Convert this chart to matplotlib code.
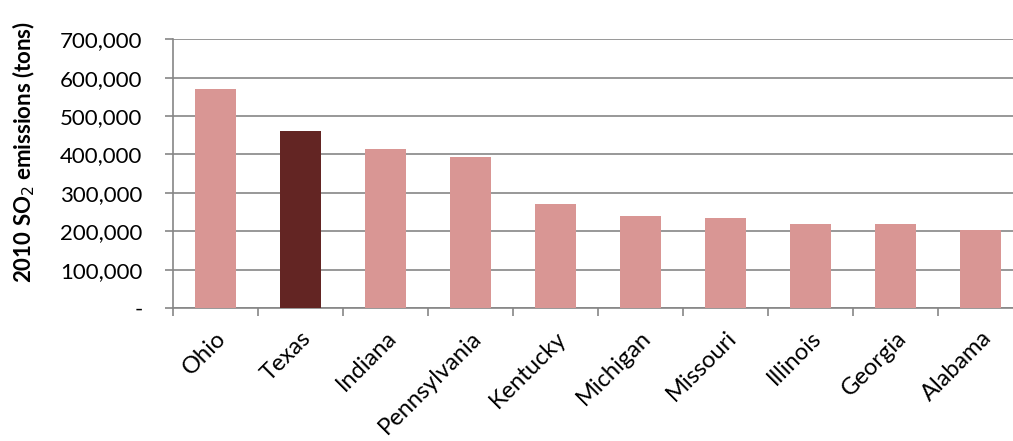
import numpy as np
import matplotlib
matplotlib.use('Agg')
from matplotlib import pyplot as plt
from matplotlib.ticker import FuncFormatter
import matplotlib.transforms as mtransforms

states = ['Ohio', 'Texas', 'Indiana', 'Pennsylvania', 'Kentucky',
          'Michigan', 'Missouri', 'Illinois', 'Georgia', 'Alabama']
so2 = [570000, 461000, 413000, 392000, 271000,
       240000, 235000, 220000, 218000, 203000]
highlight = 'Texas'

light = '#d99694'
dark = '#632523'
grid = '#868686'

plt.rcParams['font.family'] = ['Lato', 'DejaVu Sans']

fig = plt.figure(figsize=(10.13, 4.41), dpi=100)
# axes runs a bit past the right edge, like the cropped original
ax = fig.add_axes([173/1013, 133/441, 850/1013, 268.8/441])

x = np.arange(len(states))
clr = [dark if s == highlight else light for s in states]
ax.bar(x, so2, width=0.48, color=clr, zorder=3)

ax.set_xlim(-0.5, len(states) - 0.5)
ax.set_ylim(0, 700000)
ax.set_yticks(np.arange(0, 700001, 100000))
ax.yaxis.set_major_formatter(FuncFormatter(lambda v, p: '-' if v == 0 else f'{int(v):,}'))
ax.yaxis.grid(True, color=grid, linewidth=1.2, zorder=0)

ax.set_xticks(np.arange(-0.5, len(states), 1.0), minor=False)
ax.set_xticklabels([])
ax.set_xticks(x, minor=True)
ax.set_xticklabels(states, minor=True, rotation=45, ha='right', va='top',
                   rotation_mode='anchor', fontsize=17)
off = mtransforms.ScaledTranslation(7/100, -4/100, fig.dpi_scale_trans)
for lab in ax.get_xticklabels(minor=True):
    lab.set_transform(lab.get_transform() + off)

ax.tick_params(axis='x', which='major', direction='out', length=6, width=1.2, color=grid)
ax.tick_params(axis='x', which='minor', length=0, pad=14)
ax.tick_params(axis='y', direction='out', length=6, width=1.2, color=grid,
               labelsize=16, pad=16)

for side in ['top', 'right']:
    ax.spines[side].set_visible(False)
for side in ['left', 'bottom']:
    ax.spines[side].set_color(grid)
    ax.spines[side].set_linewidth(1.2)

fig.text(24/1013, (441-152)/441, '2010 SO$_2$ emissions (tons)', rotation=90,
         ha='center', va='center', fontsize=16, fontweight='bold')

fig.savefig('out.png', dpi=100)
